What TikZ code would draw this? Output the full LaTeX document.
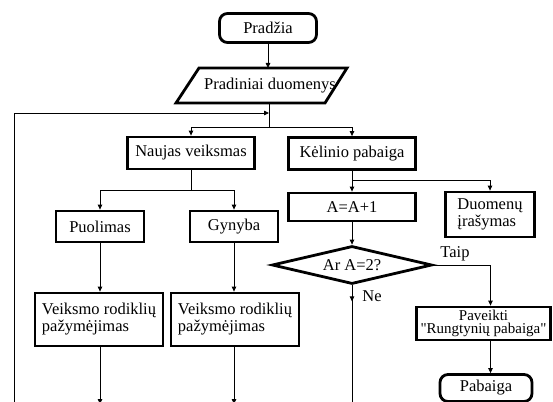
\documentclass[tikz,border=0pt]{standalone}
\usepackage{fontspec}
\setmainfont{Liberation Serif}
\newfontfamily\qf{Liberation Serif}[Ligatures=ResetAll]
\usetikzlibrary{arrows.meta,shapes.geometric,decorations.markings,calc}
\begin{document}
\begin{tikzpicture}[x=1pt,y=-1pt,
  font=\fontsize{16.5}{17}\selectfont,
  box/.style={draw, line width=2.8pt, inner sep=0pt, align=center},
  tip/.style={-{Triangle[length=5pt,width=4.5pt]}},
  conn/.style={line width=0.8pt, tip},
  thinline/.style={line width=0.8pt}]
\useasboundingbox (0,0) rectangle (553,401);
\coordinate (bot) at (0,404);
\coordinate (loopB) at (14,402);
% start
\node[box, rounded corners=8pt, minimum width=97pt, minimum height=29pt] (start) at (268,28) {Pradžia};
% input parallelogram
\draw[line width=2.8pt, line join=miter] (199,68) -- (347,68) -- (325,103) -- (176,103) -- cycle;
\node (inp) at (270,86) {Pradiniai duomenys};
\coordinate (inT) at (268,68);
\coordinate (inB) at (269,103);
\coordinate (j0) at (269,113);
\coordinate (j1) at (269,127);
\draw[conn] (start.south) -- (start.south |- inT);
\draw[thinline] (inB) -- (j1);
\draw[conn] (loopB) |- (j0);
% second level
\node[box, minimum width=127pt, minimum height=32pt] (nv) at (191,153) {Naujas veiksmas};
\node[box, minimum width=127pt, minimum height=32pt] (kp) at (352,153.5) {Kėlinio pabaiga};
\draw[conn] (j1) -| (nv.north);
\draw[conn] (j1) -| (kp.north);
% left branch
\path (nv.south) ++(0,20) coordinate (j2);
\node[box, minimum width=88pt, minimum height=31pt] (puo) at (100,226.5) {Puolimas};
\node[box, minimum width=88pt, minimum height=31pt] (gyn) at (234,226.5) {Gynyba};
\draw[thinline] (nv.south) -- (j2);
\draw[conn] (j2) -| (puo.north);
\draw[conn] (j2) -| (gyn.north);
\node[box, minimum width=128pt, minimum height=53pt, align=left] (vr1) at (99,319.5) {Veiksmo rodiklių\\pažymėjimas};
\node[box, minimum width=128pt, minimum height=53pt, align=left] (vr2) at (235,319.5) {Veiksmo rodiklių\\pažymėjimas};
\draw[conn] (puo.south) -- (puo.south |- vr1.north);
\draw[conn] (gyn.south) -- (gyn.south |- vr2.north);
\draw[conn] (vr1.south -| puo.south) -- (puo.south |- bot);
\draw[conn] (vr2.south -| gyn.south) -- (gyn.south |- bot);
% right branch
\node[box, minimum width=127pt, minimum height=28pt] (aa) at (352,207) {A=A+1};
\path (kp.south) ++(0,9) coordinate (j3);
\node[box, minimum width=89pt, minimum height=45pt, align=left] (dir) at (490,214.5) {Duomenų\\įrašymas};
\draw[conn] (kp.south) -- (aa.north);
\draw[conn] (j3) -| (dir.north);
\node[diamond, draw, line width=2.8pt, aspect=4, minimum width=160pt, minimum height=38pt, inner sep=0pt] (dia) at (352,265) {Ar A=2?};
\draw[conn] (aa.south) -- (dia.north);
\node[box, minimum width=134pt, minimum height=33pt, inner xsep=1pt, font=\fontsize{15}{13.5}\selectfont] (pav) at (483.5,323.5) {Paveikti\\{\qf"}Rungtynių pabaiga{\qf"}};
\draw[conn] (dia.east) -| ([xshift=7pt]pav.north);
\node (taip) at (455,254) {Taip};
\node[box, rounded corners=8pt, minimum width=92pt, minimum height=27pt] (end) at (486,388) {Pabaiga};
\draw[conn] ([xshift=7pt]pav.south) -- ([xshift=7pt]pav.south |- end.north);
\draw[thinline, postaction={decorate},
  decoration={markings, mark=at position 16pt with {\arrow{Triangle[length=5pt,width=4.5pt]}}}]
  (dia.south) -- (dia.south |- loopB);
\node (ne) at (372,296) {Ne};
\end{tikzpicture}
\end{document}
